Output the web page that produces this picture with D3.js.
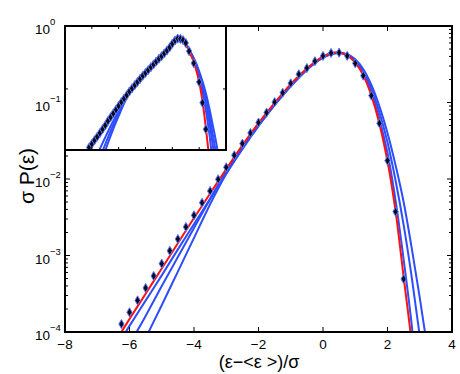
<!DOCTYPE html>
<html>
<head>
<meta charset="utf-8">
<script src="https://cdn.jsdelivr.net/npm/d3@7"></script>
<style>
  body { margin: 0; background: #fff; }
  text { font-family: "Liberation Sans", Arial, sans-serif; fill: #000; }
</style>
</head>
<body>
<svg id="chart" width="460" height="374"></svg>
<script>
// ---- main panel data ----
// measured points (diamonds)
var dotX = [-6.25, -6, -5.75, -5.5, -5.25, -5, -4.75, -4.5, -4.25, -4, -3.75, -3.5,
  -3.25, -3, -2.75, -2.5, -2.25, -2, -1.75, -1.5, -1.25, -1, -0.75, -0.5, -0.25, 0,
  0.25, 0.5, 0.75, 1, 1.25, 1.5, 1.75, 2, 2.25, 2.5];
var dotY = [1.27e-4, 1.81e-4, 2.59e-4, 3.76e-4, 5.40e-4, 7.82e-4, 1.15e-3, 1.64e-3,
  2.36e-3, 3.35e-3, 4.90e-3, 6.97e-3, 9.91e-3, 0.0142, 0.0204, 0.0290, 0.0399, 0.0547,
  0.0736, 0.101, 0.134, 0.178, 0.234, 0.282, 0.346, 0.406, 0.444, 0.448, 0.407, 0.325,
  0.224, 0.123, 0.0535, 0.0174, 3.74e-3, 4.93e-4];

// curves, given as log10 of sigma P on a common grid
var curveX = [-6.5, -6, -5.5, -5, -4.5, -4, -3.5, -3, -2.5, -2, -1.5, -1, -0.5, 0,
  0.25, 0.5, 0.75, 1, 1.25, 1.5, 1.75, 2, 2.25, 2.5, 2.75, 3, 3.25, 3.5];
var redLog = [-4.17, -3.83, -3.50, -3.17, -2.84, -2.51, -2.19, -1.87, -1.56, -1.27,
  -1.005, -0.76, -0.555, -0.40, -0.355, -0.345, -0.385, -0.48, -0.645, -0.91, -1.28,
  -1.77, -2.42, -3.28, -4.14, -5.2, -6.3, -7.5];
var blueALog = [-4.26, -3.92, -3.59, -3.26, -2.92, -2.59, -2.26, -1.93, -1.61, -1.31,
  -1.03, -0.78, -0.565, -0.405, -0.36, -0.35, -0.38, -0.47, -0.625, -0.87, -1.22,
  -1.66, -2.28, -3.05, -3.9, -4.9, -6.0, -7.2];
var blueBLog = [-4.58, -4.17, -3.79, -3.40, -3.02, -2.64, -2.26, -1.90, -1.58, -1.29,
  -1.03, -0.785, -0.57, -0.41, -0.365, -0.35, -0.375, -0.45, -0.59, -0.82, -1.13,
  -1.52, -2.02, -2.60, -3.28, -4.05, -4.9, -5.8];
var blueCLog = [-5.05, -4.52, -4.08, -3.65, -3.21, -2.77, -2.33, -1.93, -1.60, -1.30,
  -1.035, -0.79, -0.575, -0.415, -0.37, -0.355, -0.37, -0.435, -0.565, -0.77, -1.05,
  -1.40, -1.82, -2.30, -2.90, -3.55, -4.25, -5.0];

// ---- inset data (same x grid for the curves) ----
var insetDotX = [-6.2, -6, -5.8, -5.6, -5.4, -5.2, -5, -4.8, -4.6, -4.4, -4.2, -4,
  -3.8, -3.6, -3.4, -3.2, -3, -2.8, -2.6, -2.4, -2.2, -2, -1.8, -1.6, -1.4, -1.2, -1,
  -0.8, -0.6, -0.4, -0.2, 0, 0.2, 0.4, 0.6, 0.8, 1, 1.25, 1.6, 2, 2.25, 2.5];
var insetDotLog = [-1.93, -1.875, -1.815, -1.76, -1.70, -1.64, -1.58, -1.51, -1.45,
  -1.39, -1.33, -1.27, -1.21, -1.155, -1.10, -1.04, -0.99, -0.94, -0.89, -0.84, -0.79,
  -0.745, -0.70, -0.655, -0.61, -0.565, -0.52, -0.48, -0.435, -0.39, -0.34, -0.28,
  -0.23, -0.20, -0.205, -0.225, -0.27, -0.40, -0.59, -0.89, -1.22, -1.64];
var insetRedLog = [-2.02, -1.875, -1.73, -1.58, -1.42, -1.27, -1.125, -0.99, -0.865,
  -0.745, -0.632, -0.52, -0.41, -0.28, -0.225, -0.20, -0.215, -0.29, -0.40, -0.52,
  -0.68, -0.89, -1.20, -1.62, -2.1, -2.6, -3.1, -3.6];
var insetBlueLog = [
  [-2.05, -1.89, -1.74, -1.585, -1.425, -1.275, -1.13, -0.995, -0.865, -0.745, -0.632,
    -0.52, -0.41, -0.28, -0.225, -0.20, -0.215, -0.285, -0.39, -0.50, -0.64, -0.82,
    -1.05, -1.34, -1.70, -2.15, -2.65, -3.2],
  [-2.55, -2.25, -2.0, -1.77, -1.55, -1.35, -1.15, -0.995, -0.865, -0.745, -0.632,
    -0.52, -0.41, -0.28, -0.225, -0.20, -0.215, -0.28, -0.385, -0.49, -0.62, -0.78,
    -0.98, -1.22, -1.52, -1.87, -2.3, -2.8],
  [-2.8, -2.45, -2.15, -1.88, -1.62, -1.39, -1.17, -1.0, -0.865, -0.745, -0.632,
    -0.52, -0.41, -0.28, -0.225, -0.20, -0.215, -0.28, -0.38, -0.48, -0.60, -0.75,
    -0.93, -1.14, -1.40, -1.71, -2.02, -2.45],
  [-3.1, -2.65, -2.28, -1.98, -1.69, -1.43, -1.19, -1.005, -0.865, -0.745, -0.632,
    -0.52, -0.41, -0.28, -0.225, -0.20, -0.215, -0.275, -0.375, -0.47, -0.58, -0.72,
    -0.88, -1.07, -1.30, -1.56, -1.83, -2.15]
];

var xTicks = [-8, -6, -4, -2, 0, 2, 4];
var yDecades = [-4, -3, -2, -1, 0];
var insetXTicks = [-6, -4, -2, 0, 2];

var RED = "#ff1010", BLUE = "#2d4dff";

var svg = d3.select("#chart");

var x = d3.scaleLinear().domain([-8, 4]).range([65, 452]);
var y = d3.scaleLog().domain([1e-4, 1]).range([332, 26]);

function pts(xs, logs) {
  return xs.map(function(d, i) { return {x: d, y: Math.pow(10, logs[i])}; });
}

svg.append("clipPath").attr("id", "mainclip")
  .append("rect").attr("x", 65).attr("y", 26).attr("width", 387).attr("height", 306);

var line = d3.line()
  .x(function(d) { return x(d.x); })
  .y(function(d) { return y(d.y); })
  .curve(d3.curveCatmullRom);

var main = svg.append("g").attr("clip-path", "url(#mainclip)");
[blueCLog, blueBLog, blueALog].forEach(function(c) {
  main.append("path").datum(pts(curveX, c))
    .attr("fill", "none").attr("stroke", BLUE).attr("stroke-width", 2).attr("d", line);
});
main.append("path").datum(pts(curveX, redLog))
  .attr("fill", "none").attr("stroke", RED).attr("stroke-width", 2).attr("d", line);

var diamond = d3.symbol().type(d3.symbolDiamond).size(24);
main.selectAll(".dot")
  .data(dotX.map(function(d, i) { return {x: d, y: dotY[i]}; }))
  .enter().append("path")
    .attr("class", "dot")
    .attr("transform", function(d) { return "translate(" + x(d.x) + "," + y(d.y) + ")"; })
    .attr("d", diamond)
    .attr("fill", "#0a0a1a").attr("stroke", "#5a78ff").attr("stroke-width", 1);

// ticks of the main axes
var ax = svg.append("g").attr("stroke", "#000").attr("stroke-width", 1);
xTicks.forEach(function(t) {
  ax.append("line").attr("x1", x(t)).attr("x2", x(t)).attr("y1", 332).attr("y2", 327);
  ax.append("line").attr("x1", x(t)).attr("x2", x(t)).attr("y1", 26).attr("y2", 31);
});
yDecades.forEach(function(e) {
  var v = Math.pow(10, e);
  ax.append("line").attr("x1", 65).attr("x2", 70).attr("y1", y(v)).attr("y2", y(v));
  ax.append("line").attr("x1", 452).attr("x2", 447).attr("y1", y(v)).attr("y2", y(v));
  if (e < 0) {
    for (var k = 2; k <= 9; k++) {
      var m = k * v;
      ax.append("line").attr("x1", 65).attr("x2", 68).attr("y1", y(m)).attr("y2", y(m));
      ax.append("line").attr("x1", 452).attr("x2", 449).attr("y1", y(m)).attr("y2", y(m));
    }
  }
});

svg.append("rect").attr("x", 65).attr("y", 26).attr("width", 387).attr("height", 306)
  .attr("fill", "none").attr("stroke", "#000").attr("stroke-width", 2);

// tick labels
svg.selectAll(".xlab").data(xTicks).enter().append("text")
  .attr("x", function(d) { return x(d); }).attr("y", 349)
  .attr("text-anchor", "middle").attr("font-size", 13.5)
  .text(function(d) { return d3.format("d")(d); });

yDecades.forEach(function(e) {
  var ty = y(Math.pow(10, e));
  svg.append("text").attr("x", 50).attr("y", ty + 8)
    .attr("text-anchor", "end").attr("font-size", 13.5).text("10");
  svg.append("text").attr("x", 50).attr("y", ty - 1)
    .attr("font-size", 9.5).text(e === 0 ? "0" : "\u2212" + (-e));
});

svg.append("text").attr("x", 259).attr("y", 368).attr("text-anchor", "middle")
  .attr("font-size", 18).text("(\u03b5\u2212<\u03b5 >)/\u03c3");
svg.append("text").attr("transform", "translate(34,176) rotate(-90)")
  .attr("text-anchor", "middle").attr("font-size", 21).text("\u03c3 P(\u03b5)");

// ---- inset ----
var ix = d3.scaleLinear().domain([-8, 4]).range([65, 226]);
var iy = d3.scaleLog().domain([0.0107, 1]).range([150, 26]);

svg.append("clipPath").attr("id", "insetclip")
  .append("rect").attr("x", 65).attr("y", 26).attr("width", 161).attr("height", 124);

svg.append("rect").attr("x", 65).attr("y", 26).attr("width", 161).attr("height", 124)
  .attr("fill", "#fff");

var iline = d3.line()
  .x(function(d) { return ix(d.x); })
  .y(function(d) { return iy(d.y); })
  .curve(d3.curveCatmullRom);

var inset = svg.append("g").attr("clip-path", "url(#insetclip)");
insetBlueLog.slice().reverse().forEach(function(c) {
  inset.append("path").datum(pts(curveX, c))
    .attr("fill", "none").attr("stroke", BLUE).attr("stroke-width", 2).attr("d", iline);
});
inset.append("path").datum(pts(curveX, insetRedLog))
  .attr("fill", "none").attr("stroke", RED).attr("stroke-width", 2).attr("d", iline);
inset.selectAll(".idot")
  .data(insetDotX.map(function(d, i) { return {x: d, y: Math.pow(10, insetDotLog[i])}; }))
  .enter().append("path")
    .attr("class", "idot")
    .attr("transform", function(d) { return "translate(" + ix(d.x) + "," + iy(d.y) + ")"; })
    .attr("d", diamond)
    .attr("fill", "#0a0a1a").attr("stroke", "#5a78ff").attr("stroke-width", 1);

var iax = svg.append("g").attr("stroke", "#000").attr("stroke-width", 1);
insetXTicks.forEach(function(t) {
  iax.append("line").attr("x1", ix(t)).attr("x2", ix(t)).attr("y1", 150).attr("y2", 147);
  iax.append("line").attr("x1", ix(t)).attr("x2", ix(t)).attr("y1", 26).attr("y2", 29);
});
iax.append("line").attr("x1", 65).attr("x2", 68).attr("y1", iy(0.1)).attr("y2", iy(0.1));
iax.append("line").attr("x1", 226).attr("x2", 223).attr("y1", iy(0.1)).attr("y2", iy(0.1));

svg.append("rect").attr("x", 65).attr("y", 26).attr("width", 161).attr("height", 124)
  .attr("fill", "none").attr("stroke", "#000").attr("stroke-width", 2);
</script>
</body>
</html>
